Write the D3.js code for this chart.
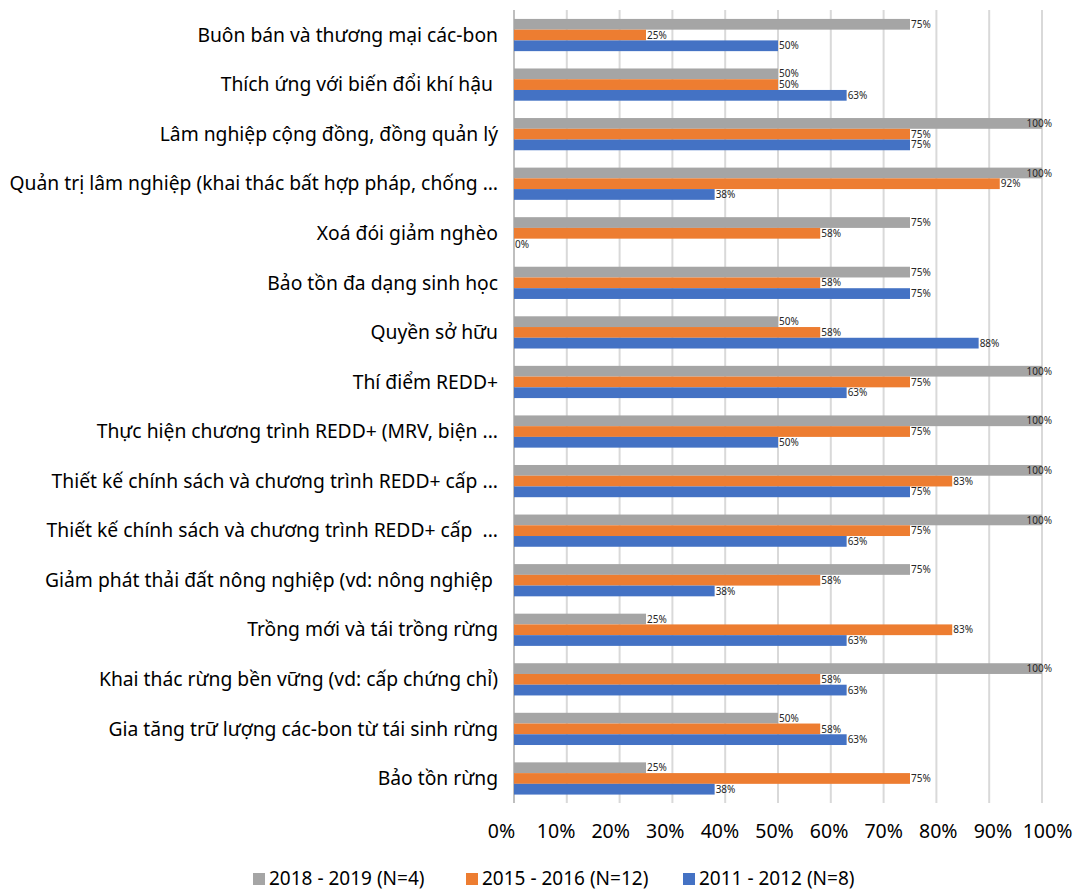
<!DOCTYPE html>
<html>
<head>
<meta charset="utf-8">
<script src="https://cdn.jsdelivr.net/npm/d3@7"></script>
<style>
  body { margin: 0; background: #fff; }
  svg text { font-family: "Noto Sans", "Open Sans", sans-serif; }
</style>
</head>
<body>
<svg id="chart" width="1076" height="891"></svg>
<script>
// Topics, top to bottom
const categories = [
  "Buôn bán và thương mại các-bon",
  "Thích ứng với biến đổi khí hậu ",
  "Lâm nghiệp cộng đồng, đồng quản lý",
  "Quản trị lâm nghiệp (khai thác bất hợp pháp, chống …",
  "Xoá đói giảm nghèo",
  "Bảo tồn đa dạng sinh học",
  "Quyền sở hữu",
  "Thí điểm REDD+",
  "Thực hiện chương trình REDD+ (MRV, biện ...",
  "Thiết kế chính sách và chương trình REDD+ cấp ...",
  "Thiết kế chính sách và chương trình REDD+ cấp  ...",
  "Giảm phát thải đất nông nghiệp (vd: nông nghiệp ",
  "Trồng mới và tái trồng rừng",
  "Khai thác rừng bền vững (vd: cấp chứng chỉ)",
  "Gia tăng trữ lượng các-bon từ tái sinh rừng",
  "Bảo tồn rừng"
];

// Share of respondents (%) per period
const series2018 = [75, 50, 100, 100, 75, 75, 50, 100, 100, 100, 100, 75, 25, 100, 50, 25];
const series2015 = [25, 50, 75, 92, 58, 58, 58, 75, 75, 83, 75, 58, 83, 58, 58, 75];
const series2011 = [50, 63, 75, 38, 0, 75, 88, 63, 50, 75, 63, 38, 63, 63, 63, 38];

const seriesNames = ["2018 - 2019 (N=4)", "2015 - 2016 (N=12)", "2011 - 2012 (N=8)"];
const seriesColors = ["#a5a5a5", "#ed7d31", "#4472c4"];
const tickValues = [0, 10, 20, 30, 40, 50, 60, 70, 80, 90, 100];

const series = [series2018, series2015, series2011];

const svg = d3.select("#chart");
const plot = { left: 514, right: 1042, top: 10, bottom: 803 };

const x = d3.scaleLinear().domain([0, 100]).range([plot.left, plot.right]);
const y = d3.scaleBand().domain(categories).range([plot.top, plot.bottom]);
const inner = d3.scaleBand().domain(d3.range(series.length))
  .range([y.bandwidth() * 0.18, y.bandwidth() * 0.83]);

// vertical gridlines
svg.append("g").selectAll("line").data(tickValues).join("line")
  .attr("x1", d => x(d)).attr("x2", d => x(d))
  .attr("y1", plot.top).attr("y2", plot.bottom)
  .attr("stroke", d => d === 0 ? "#bfbfbf" : "#d9d9d9")
  .attr("stroke-width", 2);

// bars
const groups = svg.append("g").selectAll("g").data(categories).join("g")
  .attr("transform", d => `translate(0,${y(d)})`);

series.forEach((vals, si) => {
  groups.append("rect")
    .attr("x", x(0))
    .attr("y", inner(si))
    .attr("width", (d, i) => x(vals[i]) - x(0))
    .attr("height", inner.bandwidth())
    .attr("fill", seriesColors[si]);

  groups.append("text")
    .attr("x", (d, i) => vals[i] >= 100 ? x(100) + 10 : x(vals[i]) + 1)
    .attr("y", inner(si) + inner.bandwidth() / 2)
    .attr("dy", "0.36em")
    .attr("text-anchor", (d, i) => vals[i] >= 100 ? "end" : "start")
    .attr("font-size", 10)
    .attr("fill", "#262626")
    .text((d, i) => vals[i] + "%");
});

// category labels
svg.append("g").selectAll("text").data(categories).join("text")
  .attr("x", 498)
  .attr("y", d => y(d) + y.bandwidth() / 2)
  .attr("dy", "0.36em")
  .attr("text-anchor", "end")
  .attr("font-size", 19.3)
  .attr("fill", "#000")
  .attr("xml:space", "preserve")
  .style("white-space", "pre")
  .text(d => d);

// x axis tick labels
const xLabels = d3.scaleLinear().domain([0, 100]).range([501, 1047]);
const axis = svg.append("g")
  .attr("transform", `translate(0,${plot.bottom + 18})`)
  .call(d3.axisBottom(xLabels).tickValues(tickValues).tickSize(0).tickFormat(d => d + "%"));
axis.select(".domain").remove();
axis.selectAll("text")
  .attr("font-size", 19.5)
  .attr("fill", "#000")
  .style("font-family", "'Noto Sans', 'Open Sans', sans-serif");

// legend
const legendX = [253, 466, 683];
const legend = svg.append("g").selectAll("g").data(seriesNames).join("g")
  .attr("transform", (d, i) => `translate(${legendX[i]},878)`);
legend.append("rect")
  .attr("x", 0).attr("y", -5).attr("width", 12).attr("height", 12)
  .attr("fill", (d, i) => seriesColors[i]);
legend.append("text")
  .attr("x", 16).attr("y", 0).attr("dy", "0.36em")
  .attr("font-size", 19).attr("fill", "#000")
  .text(d => d);
</script>
</body>
</html>
